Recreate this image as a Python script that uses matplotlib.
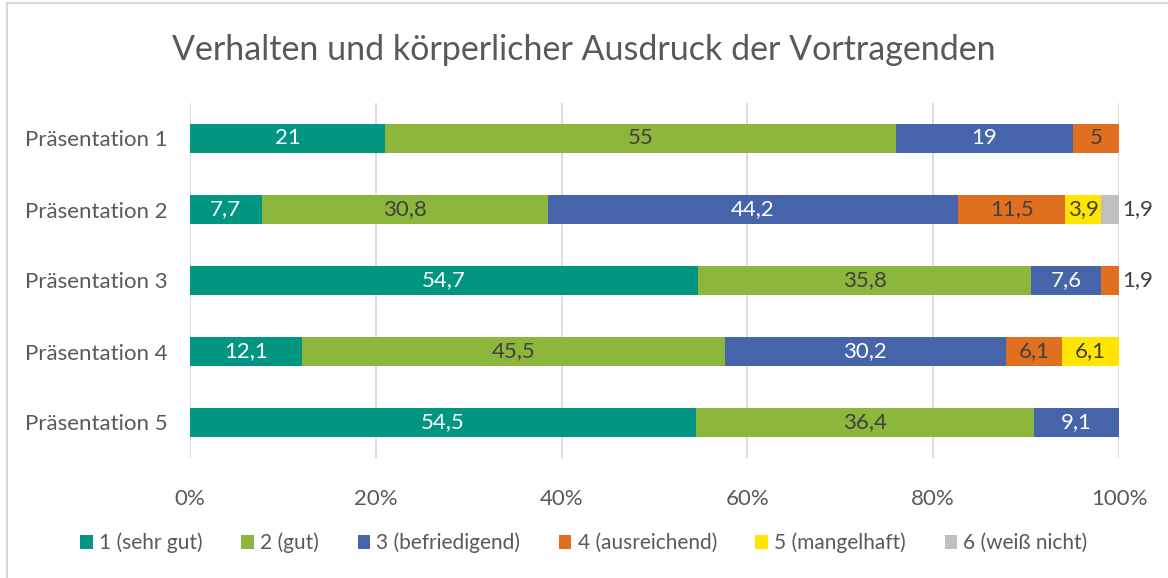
import matplotlib.pyplot as plt
from matplotlib.lines import Line2D

# Daten
praesentationen = ['Präsentation 1', 'Präsentation 2', 'Präsentation 3',
                   'Präsentation 4', 'Präsentation 5']
noten = ['1 (sehr gut)', '2 (gut)', '3 (befriedigend)', '4 (ausreichend)',
         '5 (mangelhaft)', '6 (weiß nicht)']
note1 = [21, 7.7, 54.7, 12.1, 54.5]
note2 = [55, 30.8, 35.8, 45.5, 36.4]
note3 = [19, 44.2, 7.6, 30.2, 9.1]
note4 = [5, 11.5, 1.9, 6.1, 0]
note5 = [0, 3.9, 0, 6.1, 0]
note6 = [0, 1.9, 0, 0, 0]
xticks = [0, 20, 40, 60, 80, 100]

farben = ['#009682', '#8DB63C', '#4564AA', '#E07020', '#FFE500', '#BFBFBF']
textfarben = ['white', '#404040', 'white', '#404040', '#404040', '#404040']

plt.rcParams['font.family'] = ['Lato', 'DejaVu Sans']

fig = plt.figure(figsize=(11.68, 5.78), dpi=100)
ax = fig.add_axes([190 / 1168, 1 - 458 / 578, 929 / 1168, 355 / 578])

serien = [note1, note2, note3, note4, note5, note6]
links = [0] * len(praesentationen)
ypos = list(range(len(praesentationen)))
for k, werte in enumerate(serien):
    ax.barh(ypos, werte, left=links, height=0.41, color=farben[k],
            label=noten[k], zorder=2)
    for i, w in enumerate(werte):
        if w <= 0:
            continue
        txt = f'{w:g}'.replace('.', ',')
        if w < 3:
            # kleine Werte rechts neben dem Balken
            ax.text(100.3, i, txt, ha='left', va='center', fontsize=16,
                    color='#404040')
        else:
            ax.text(links[i] + w / 2, i, txt, ha='center', va='center',
                    fontsize=16, color=textfarben[k])
    links = [a + b for a, b in zip(links, werte)]

ax.set_xlim(0, 100)
ax.set_ylim(len(praesentationen) - 0.5, -0.5)
ax.set_yticks(ypos)
ax.set_yticklabels(praesentationen, fontsize=16, color='#595959')
ax.set_xticks(xticks)
ax.set_xticklabels([f'{t}%' for t in xticks], fontsize=16, color='#595959')
ax.tick_params(length=0)
ax.tick_params(axis='x', pad=22)
ax.tick_params(axis='y', pad=16)
ax.grid(axis='x', color='#D9D9D9', linewidth=1.3, zorder=0)
for s in ax.spines.values():
    s.set_visible(False)

fig.suptitle('Verhalten und körperlicher Ausdruck der Vortragenden',
             y=1 - 50 / 578, va='center', fontsize=24.5, color='#595959')

fig.legend(loc='center', bbox_to_anchor=(0.5, 1 - 543 / 578), ncol=6,
           frameon=False, fontsize=15, labelcolor='#595959',
           handlelength=0.6, handleheight=0.6, handletextpad=0.3,
           columnspacing=1.85)

# Rahmen des Diagrammbereichs
fig.add_artist(Line2D([7 / 1168, 7 / 1168], [0, 1 - 3 / 578],
                      transform=fig.transFigure, color='#D9D9D9', lw=1.5))
fig.add_artist(Line2D([7 / 1168, 1], [1 - 3 / 578, 1 - 3 / 578],
                      transform=fig.transFigure, color='#D9D9D9', lw=1.5))

plt.savefig('out.png', dpi=100)
